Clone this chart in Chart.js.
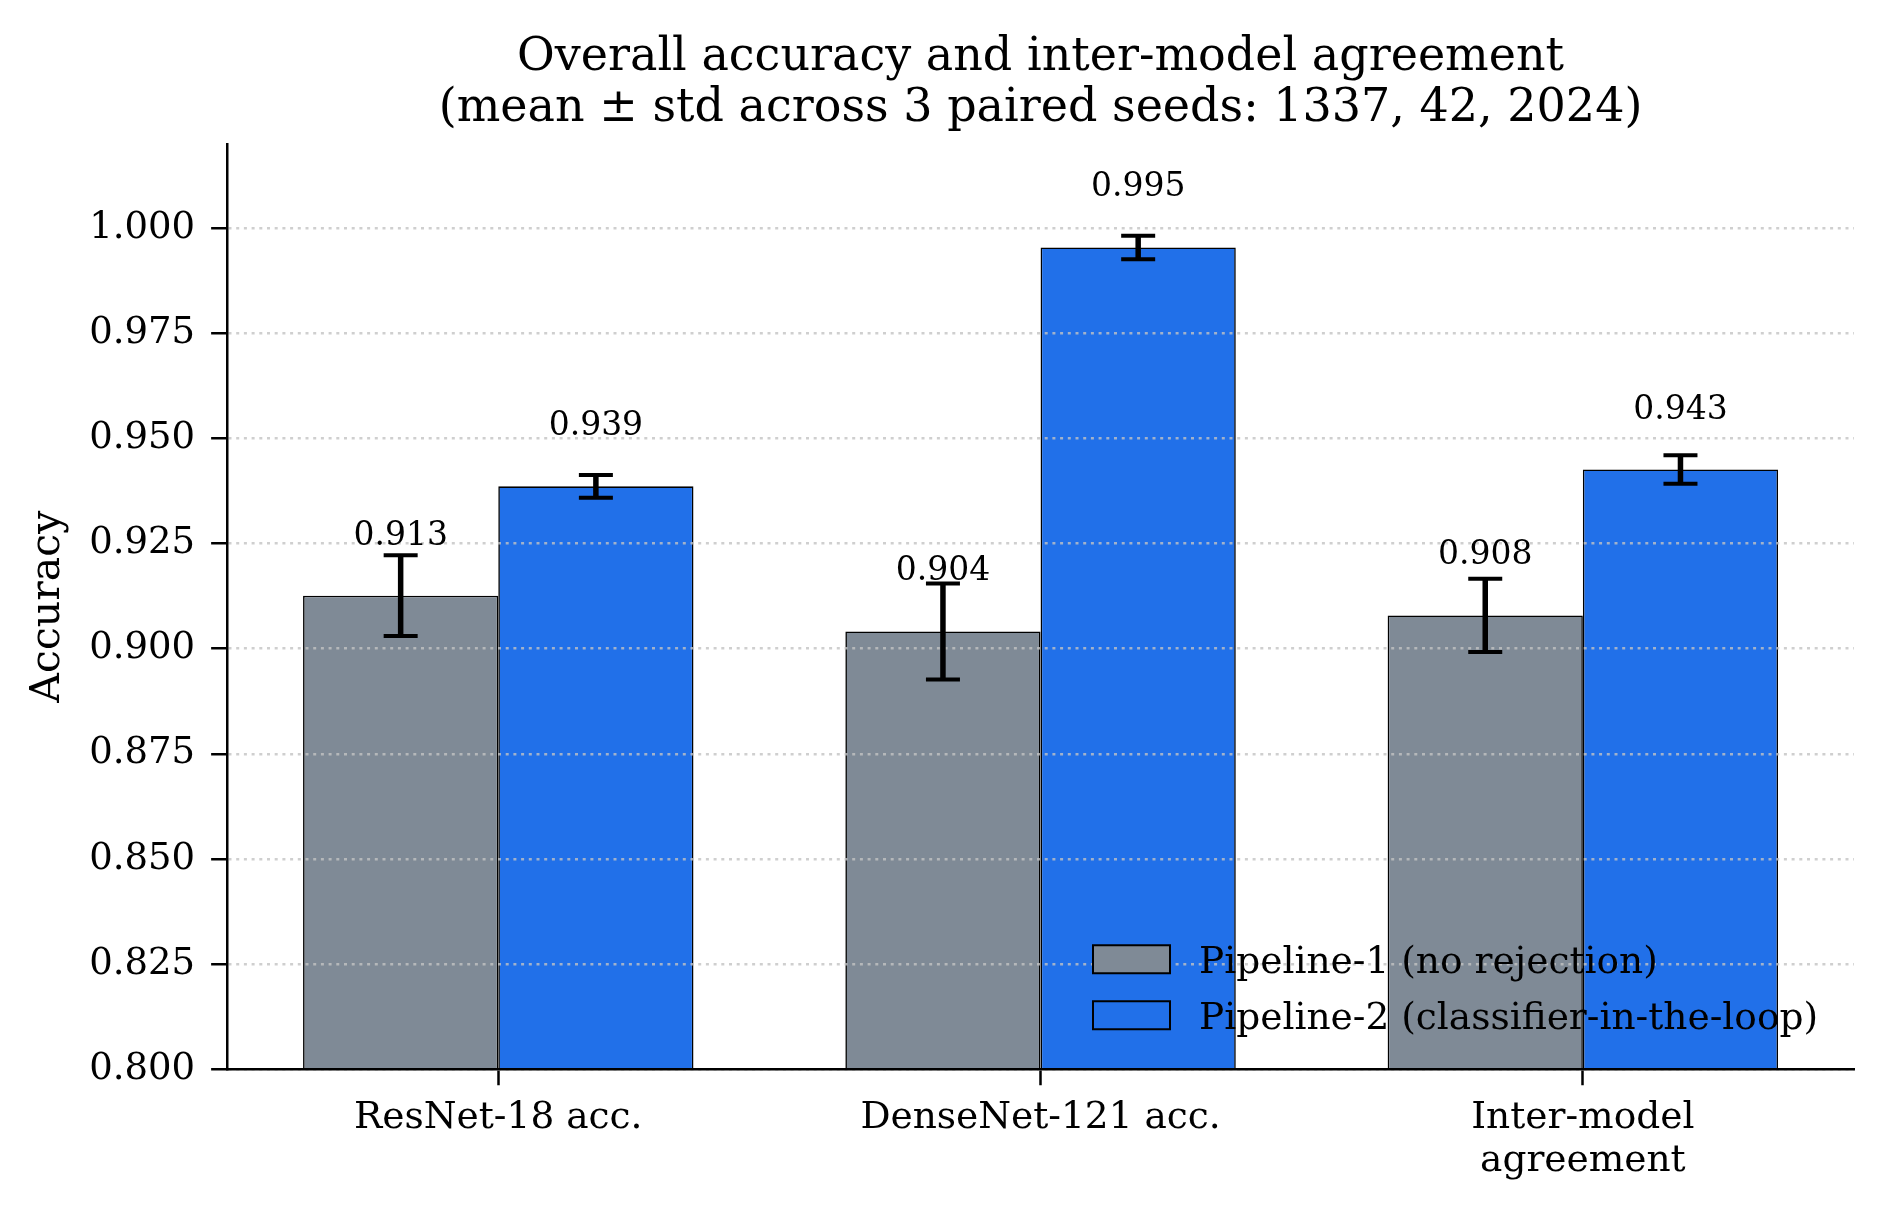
<!DOCTYPE html>
<html>
<head>
<meta charset="utf-8">
<script src="https://cdn.jsdelivr.net/npm/chart.js@4.4.1/dist/chart.umd.min.js"></script>
<style>
  html, body { margin: 0; padding: 0; background: #ffffff; }
  #wrap { width: 1882px; height: 1205px; }
</style>
</head>
<body>
<div id="wrap"><canvas id="c" width="1882" height="1205"></canvas></div>
<script>
// ---- data ----
const categories = ['ResNet-18 acc.', 'DenseNet-121 acc.', ['Inter-model', 'agreement']];
const seriesNames = ['Pipeline-1 (no rejection)', 'Pipeline-2 (classifier-in-the-loop)'];
const p1Mean = [0.9126, 0.9041, 0.9079];
const p1Std  = [0.0096, 0.0114, 0.0087];
const p2Mean = [0.9386, 0.9954, 0.9426];
const p2Std  = [0.0027, 0.0028, 0.0034];
const yTicks = [0.800, 0.825, 0.850, 0.875, 0.900, 0.925, 0.950, 0.975, 1.000];
const yMin = 0.80, yMax = 1.02;
const titleLines = ['Overall accuracy and inter-model agreement', '(mean \u00b1 std across 3 paired seeds: 1337, 42, 2024)'];
const yTitle = 'Accuracy';

const FONT = "'DejaVu Serif', 'Liberation Serif', serif";
const stds = [p1Std, p2Std];

const overlay = {
  id: 'overlay',
  afterDraw(chart) {
    const ctx = chart.ctx;
    const ys = chart.scales.y;
    const ca = chart.chartArea;
    // error bars + value labels
    chart.data.datasets.forEach((ds, di) => {
      const meta = chart.getDatasetMeta(di);
      meta.data.forEach((bar, i) => {
        const m = ds.data[i], s = stds[di][i];
        const x = bar.x;
        const yt = ys.getPixelForValue(m + s), yb = ys.getPixelForValue(m - s);
        ctx.save();
        ctx.strokeStyle = '#000';
        ctx.lineCap = 'butt';
        ctx.lineWidth = 5.5;
        ctx.beginPath(); ctx.moveTo(x, yt); ctx.lineTo(x, yb); ctx.stroke();
        ctx.lineWidth = 4;
        ctx.beginPath();
        ctx.moveTo(x - 17, yt); ctx.lineTo(x + 17, yt);
        ctx.moveTo(x - 17, yb); ctx.lineTo(x + 17, yb);
        ctx.stroke();
        ctx.fillStyle = '#000';
        ctx.font = '33px ' + FONT;
        ctx.textAlign = 'center';
        ctx.textBaseline = 'alphabetic';
        ctx.fillText(m.toFixed(3), x, ys.getPixelForValue(m) - 51);
        ctx.restore();
      });
    });
    // legend (lower right, inside axes)
    const items = Chart.defaults.plugins.legend.labels.generateLabels(chart);
    items.forEach((it, k) => {
      const bx = ca.right - 761, by = ca.bottom - 124 + k * 56;
      ctx.save();
      ctx.fillStyle = it.fillStyle;
      ctx.fillRect(bx, by, 77, 28);
      ctx.strokeStyle = '#000';
      ctx.lineWidth = 2;
      ctx.strokeRect(bx, by, 77, 28);
      ctx.fillStyle = '#000';
      ctx.font = '37.5px ' + FONT;
      ctx.textAlign = 'left';
      ctx.textBaseline = 'alphabetic';
      ctx.fillText(it.text, bx + 106, by + 28);
      ctx.restore();
    });
  }
};

new Chart(document.getElementById('c'), {
  type: 'bar',
  data: {
    labels: categories,
    datasets: [
      { label: seriesNames[0], data: p1Mean, backgroundColor: '#7f8a96', borderColor: '#000000', borderWidth: 1.6, borderSkipped: false },
      { label: seriesNames[1], data: p2Mean, backgroundColor: '#2170e9', borderColor: '#000000', borderWidth: 1.6, borderSkipped: false }
    ]
  },
  options: {
    responsive: false,
    animation: false,
    devicePixelRatio: 1,
    categoryPercentage: 0.72,
    barPercentage: 1.0,
    layout: { padding: { left: 0, right: 28, top: 0, bottom: 11 } },
    plugins: {
      title: {
        display: true,
        fullSize: false,
        text: titleLines,
        color: '#000',
        font: { family: FONT, size: 46, weight: 'normal', lineHeight: 1.1 },
        padding: { top: 33, bottom: 9.8 }
      },
      legend: { display: false },
      tooltip: { enabled: false }
    },
    scales: {
      x: {
        grid: { display: true, offset: false, drawOnChartArea: false, drawTicks: true, tickLength: 16, tickColor: '#000', tickWidth: 2.5, z: 1 },
        border: { display: true, color: '#000', width: 2.5, z: 3 },
        ticks: { color: '#000', font: { family: FONT, size: 37.5, lineHeight: 1.13 }, padding: 12, maxRotation: 0, autoSkip: false }
      },
      y: {
        min: yMin,
        max: yMax,
        afterBuildTicks(scale) { scale.ticks = yTicks.map(v => ({ value: v })); },
        grid: {
          display: true, drawOnChartArea: true, drawTicks: true, tickLength: 16, z: 1,
          color: 'rgba(195,195,195,0.8)', lineWidth: 2.5,
          tickColor: '#000', tickWidth: 2.5, tickBorderDash: []
        },
        border: { display: true, color: '#000', width: 2.5, z: 3, dash: [3, 4.7] },
        ticks: { color: '#000', font: { family: FONT, size: 37 }, padding: 16, callback: v => Number(v).toFixed(3) },
        title: { display: true, text: yTitle, color: '#000', font: { family: FONT, size: 41, lineHeight: 1.2 }, padding: { top: 24, bottom: 0 } }
      }
    }
  },
  plugins: [overlay]
});
</script>
</body>
</html>
